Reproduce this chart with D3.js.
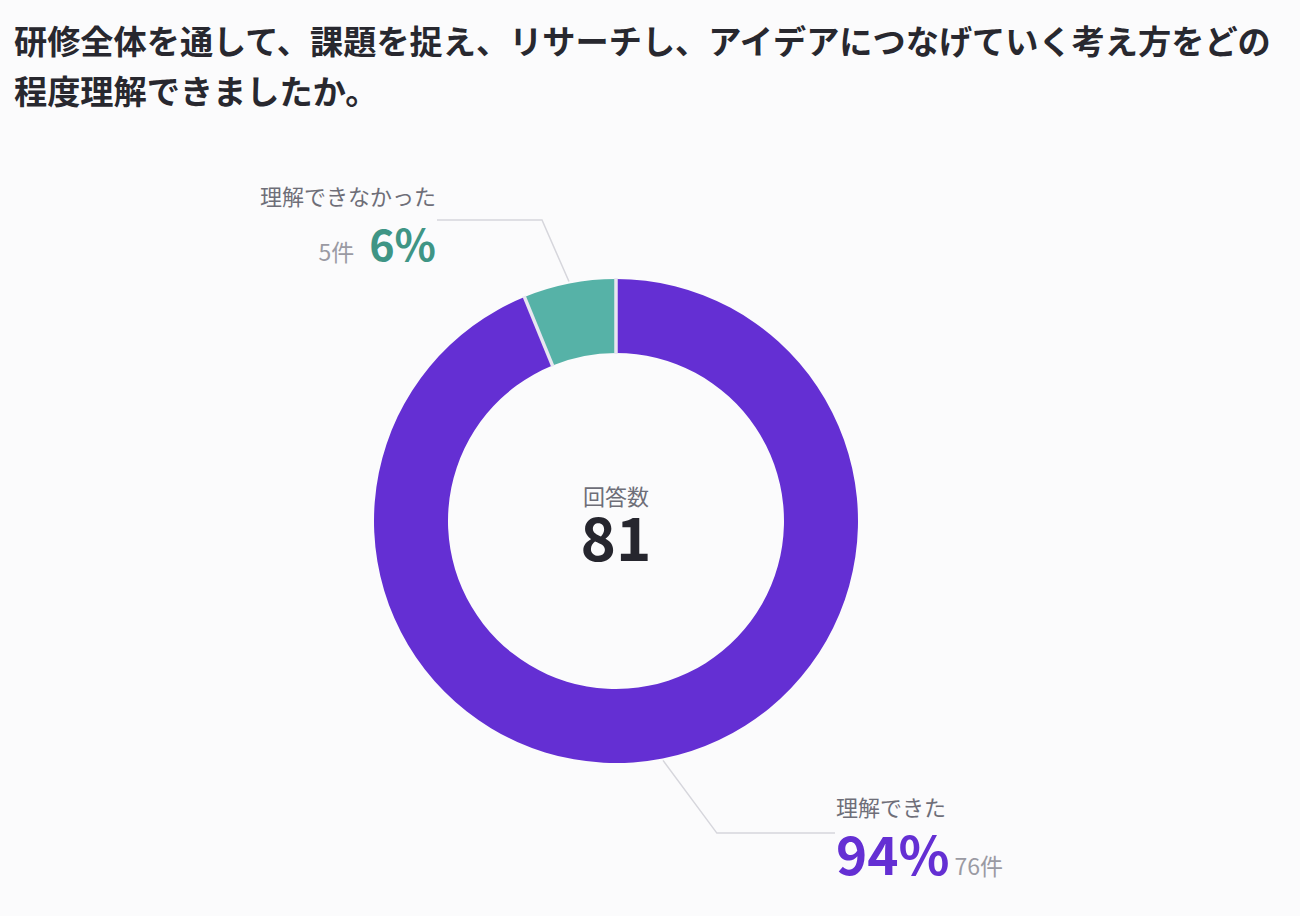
<!DOCTYPE html>
<html>
<head>
<meta charset="utf-8">
<script src="https://cdn.jsdelivr.net/npm/d3@7"></script>
<style>
  html, body { margin: 0; padding: 0; background: #fbfbfc; }
  body { width: 1300px; height: 916px; overflow: hidden; }
  text { font-family: "Noto Sans CJK JP", "Noto Sans", sans-serif; }
</style>
</head>
<body>
<svg id="chart" width="1300" height="916"></svg>
<script>
// question title, split as in the original
const titleLines = [
    "研修全体を通して、課題を捉え、リサーチし、アイデアにつなげていく考え方をどの",
    "程度理解できましたか。"
];

const answers = ["理解できた", "理解できなかった"];
const counts = [76, 5];
const colors = ["#642fd3", "#56b2a7"];
const textColors = ["#642fd3", "#3f9585"];
const totalLabel = "回答数";

const svg = d3.select("#chart");
const cx = 616, cy = 521;
const outerR = 242, innerR = 168;

svg.append("g")
    .selectAll("text")
    .data(titleLines)
    .enter()
    .append("text")
    .attr("x", 14)
    .attr("y", function (d, i) { return 54 + i * 50 })
    .attr("font-size", 33.2)
    .attr("font-weight", 700)
    .attr("fill", "#28282f")
    .text(function (d) { return d });

const data = answers.map(function (a, i) {
    return { name: a, count: counts[i], color: colors[i], textColor: textColors[i] };
});
const total = d3.sum(counts);

const pie = d3.pie().sort(null).value(function (d) { return d.count });
const arcs = pie(data);
const arc = d3.arc().innerRadius(innerR).outerRadius(outerR);

const g = svg.append("g").attr("transform", `translate(${cx},${cy})`);

g.selectAll("path.slice")
    .data(arcs)
    .enter()
    .append("path")
    .attr("class", "slice")
    .attr("d", arc)
    .attr("fill", function (d) { return d.data.color });

function polar(angle, r) {
    return [r * Math.sin(angle), -r * Math.cos(angle)];
}

// thin light separators between slices
g.selectAll("line.sep")
    .data(arcs)
    .enter()
    .append("line")
    .attr("class", "sep")
    .attr("x1", function (d) { return polar(d.startAngle, innerR - 1)[0] })
    .attr("y1", function (d) { return polar(d.startAngle, innerR - 1)[1] })
    .attr("x2", function (d) { return polar(d.startAngle, outerR + 1)[0] })
    .attr("y2", function (d) { return polar(d.startAngle, outerR + 1)[1] })
    .attr("stroke", "#e8e6f0")
    .attr("stroke-width", 3.5);

// center total
g.append("text")
    .attr("y", -16)
    .attr("text-anchor", "middle")
    .attr("font-size", 22)
    .attr("fill", "#6e6e78")
    .text(totalLabel);
g.append("text")
    .attr("y", 40)
    .attr("text-anchor", "middle")
    .attr("font-size", 60)
    .attr("font-weight", 700)
    .attr("fill", "#26262e")
    .text(total);

// leader line layout per slice (purple goes right/down, teal left/up)
const layout = [
    { elbowR: 328, tilt: -6.8, endX: 835, side: 1 },
    { elbowR: 310, tilt: -2.7, endX: 437, side: -1 }
];

arcs.forEach(function (d, i) {
    const L = layout[i];
    const mid = (d.startAngle + d.endAngle) / 2;
    const p0 = polar(mid, outerR + 2);
    const p1 = polar(mid + L.tilt * Math.PI / 180, L.elbowR);
    const p2 = [L.endX - cx, p1[1]];

    g.append("path")
        .attr("d", d3.line()([p0, p1, p2]))
        .attr("fill", "none")
        .attr("stroke", "#d6d6dc")
        .attr("stroke-width", 1.5);

    const pct = Math.round(d.data.count / total * 100) + "%";
    const x = p2[0] + (L.side > 0 ? 1 : -1);
    const lab = g.append("g");

    if (L.side > 0) {
        lab.append("text")
            .attr("x", x).attr("y", p2[1] - 17)
            .attr("font-size", 22).attr("fill", "#6e6e78")
            .text(d.data.name);
        const big = lab.append("text")
            .attr("x", x).attr("y", p2[1] + 42)
            .attr("font-size", 53).attr("font-weight", 700)
            .attr("fill", d.data.textColor)
            .text(pct);
        const w = big.node().getComputedTextLength();
        lab.append("text")
            .attr("x", x + w + 5).attr("y", p2[1] + 42)
            .attr("font-size", 23).attr("fill", "#9a9aa3")
            .text(d.data.count + "件");
    } else {
        lab.append("text")
            .attr("x", x).attr("y", p2[1] - 15)
            .attr("text-anchor", "end")
            .attr("font-size", 22).attr("fill", "#6e6e78")
            .text(d.data.name);
        const big = lab.append("text")
            .attr("x", x).attr("y", p2[1] + 41)
            .attr("text-anchor", "end")
            .attr("font-size", 43).attr("font-weight", 700)
            .attr("fill", d.data.textColor)
            .text(pct);
        const w = big.node().getComputedTextLength();
        lab.append("text")
            .attr("x", x - w - 15).attr("y", p2[1] + 41)
            .attr("text-anchor", "end")
            .attr("font-size", 23).attr("fill", "#9a9aa3")
            .text(d.data.count + "件");
    }
});
</script>
</body>
</html>
